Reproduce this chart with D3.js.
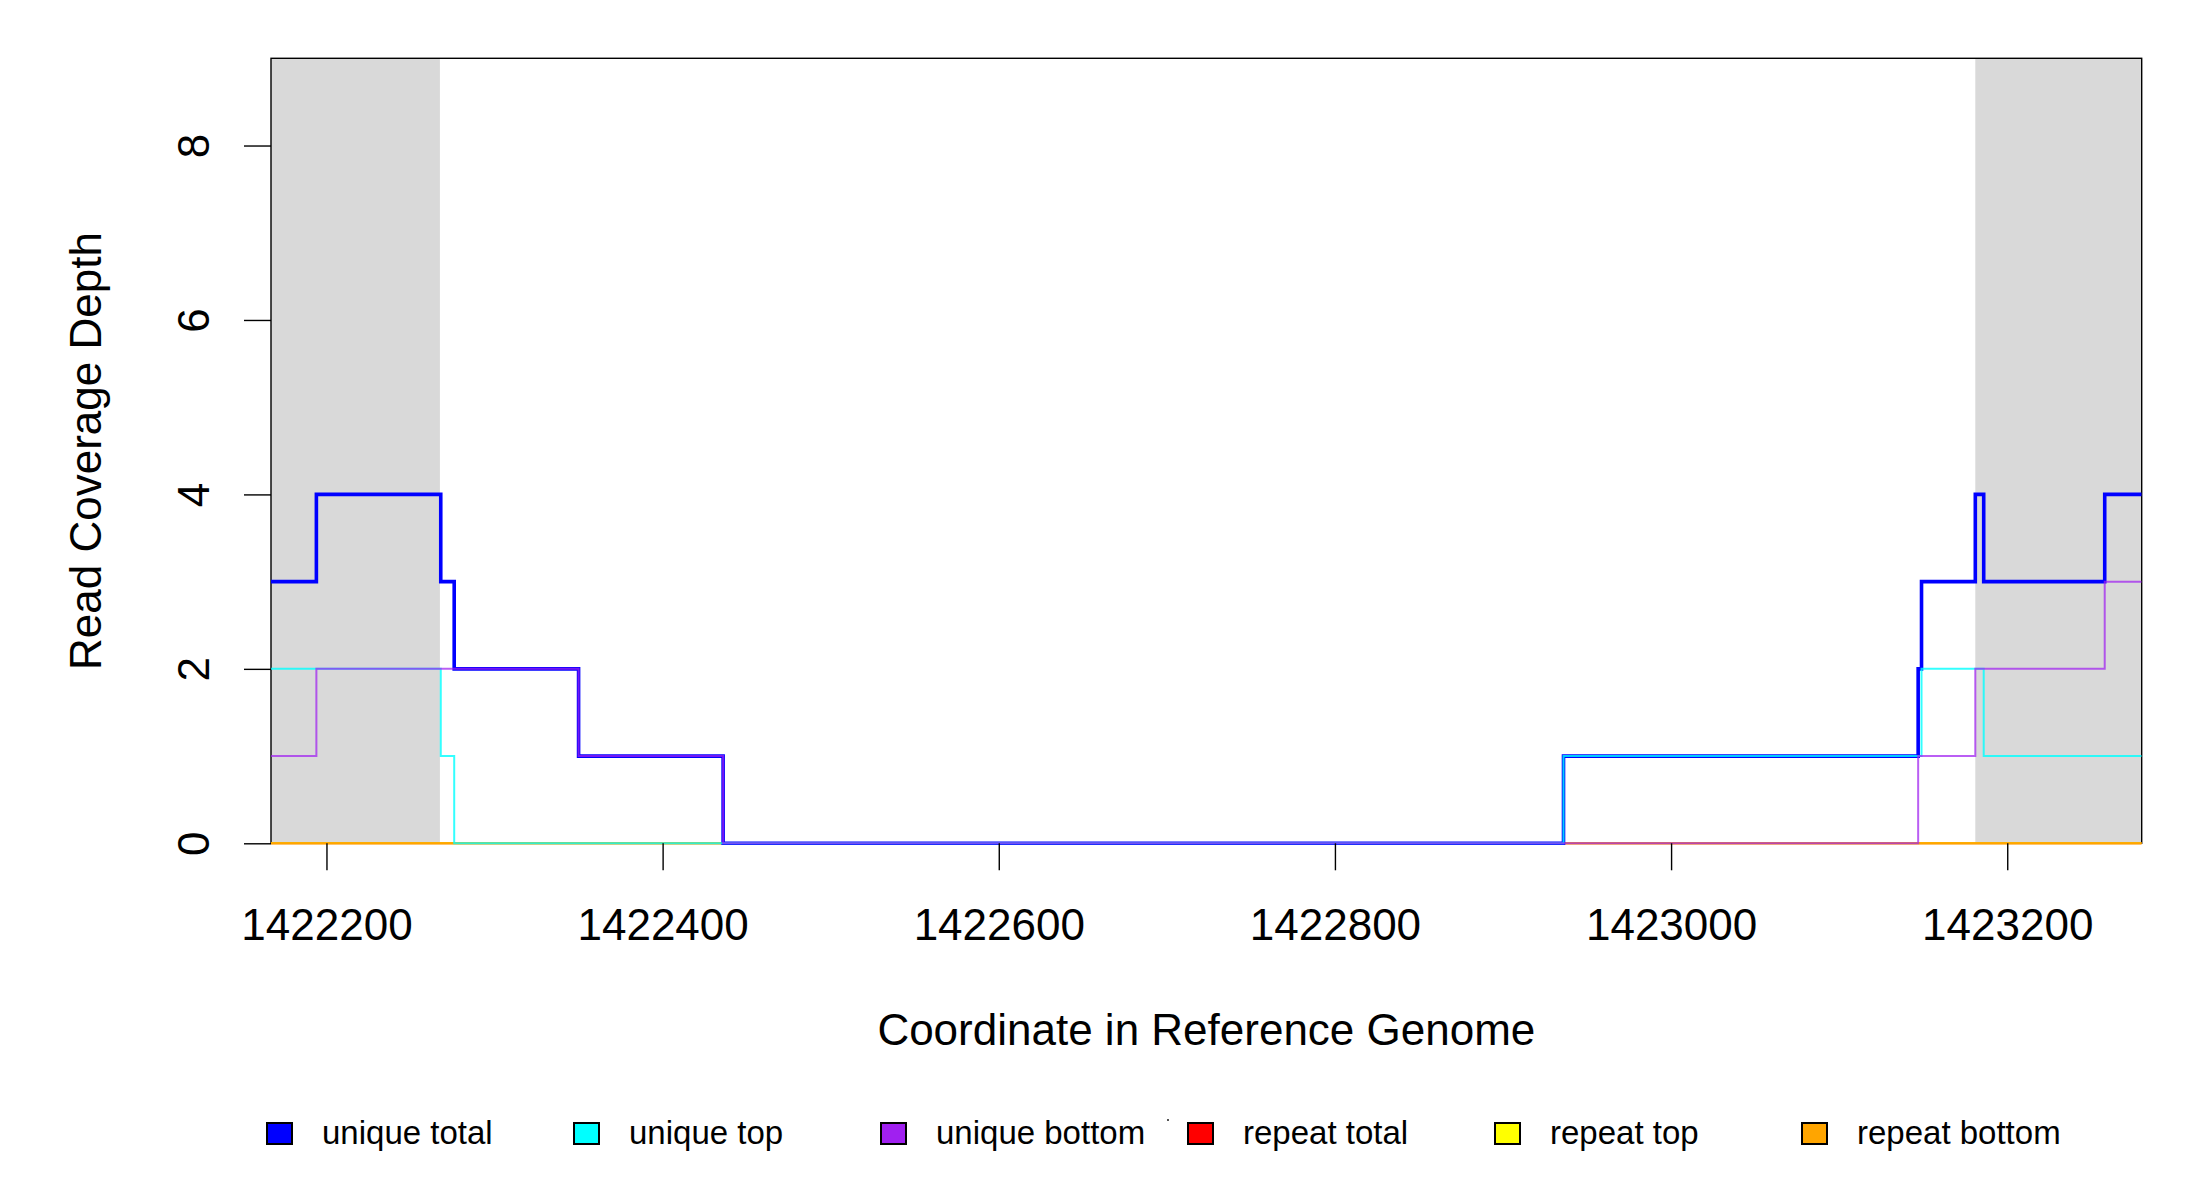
<!DOCTYPE html>
<html>
<head>
<meta charset="utf-8">
<script src="https://cdn.jsdelivr.net/npm/d3@7"></script>
<style>
body { margin: 0; background: #fff; }
text { font-family: "Liberation Sans", Arial, sans-serif; fill: #000; }
</style>
</head>
<body>
<svg id="chart" width="2200" height="1200"></svg>
<script>
// step breakpoints (genome coordinate where each value starts)
var breaks = [1422167, 1422194, 1422268, 1422276, 1422350, 1422436, 1422936, 1423147, 1423149, 1423181, 1423186, 1423258, 1423280];
var uniqueTotal  = [3, 4, 3, 2, 1, 0, 1, 2, 3, 4, 3, 4, 4];
var uniqueTop    = [2, 2, 1, 0, 0, 0, 1, 1, 2, 2, 1, 1, 1];
var uniqueBottom = [1, 2, 2, 2, 1, 0, 0, 1, 1, 2, 2, 3, 3];
var repeatTotal  = [0, 0, 0, 0, 0, 0, 0, 0, 0, 0, 0, 0, 0];
var repeatTop    = [0, 0, 0, 0, 0, 0, 0, 0, 0, 0, 0, 0, 0];
var repeatBottom = [0, 0, 0, 0, 0, 0, 0, 0, 0, 0, 0, 0, 0];

// shaded flank regions
var shadeStart = [1422167, 1423181];
var shadeEnd   = [1422267.5, 1423280];

var xTicks = [1422200, 1422400, 1422600, 1422800, 1423000, 1423200];
var yTicks = [0, 2, 4, 6, 8];

var legendNames = ["unique total", "unique top", "unique bottom", "repeat total", "repeat top", "repeat bottom"];
var legendColors = ["#0000FF", "#00FFFF", "#A020F0", "#FF0000", "#FFFF00", "#FFA500"];

var svg = d3.select("#chart");
var pLeft = 271, pRight = 2141.7, pTop = 58.3, pBottom = 843.3;

var x = d3.scaleLinear().domain([1422167, 1423280]).range([pLeft, pRight]);
var y = d3.scaleLinear().domain([0, 9]).range([pBottom, pTop]);

svg.append("defs").append("clipPath").attr("id", "plotclip")
    .append("rect")
    .attr("x", pLeft).attr("y", pTop - 3)
    .attr("width", pRight - pLeft).attr("height", pBottom - pTop + 6);

//grey shading
svg.append("g").selectAll("rect").data(shadeStart).enter().append("rect")
    .attr("x", function(d){return x(d)})
    .attr("y", pTop)
    .attr("width", function(d, i){return x(shadeEnd[i]) - x(d)})
    .attr("height", pBottom - pTop)
    .attr("fill", "#D9D9D9");

//box
svg.append("rect")
    .attr("x", pLeft).attr("y", pTop)
    .attr("width", pRight - pLeft).attr("height", pBottom - pTop)
    .attr("fill", "none").attr("stroke", "#000").attr("stroke-width", 1.4);

var stepLine = function(vals){
    return d3.line()
	.x(function(d, i){return x(breaks[i])})
	.y(function(d){return y(d)})
	.curve(d3.curveStepAfter)(vals);
}

var plotArea = svg.append("g").attr("clip-path", "url(#plotclip)");
var series = [
    {vals: repeatTotal, col: "#FF0000", w: 2, op: 1},
    {vals: repeatTop, col: "#FFFF00", w: 2, op: 1},
    {vals: repeatBottom, col: "#FFA500", w: 2, op: 1},
    {vals: uniqueTotal, col: "#0000FF", w: 3.6, op: 1},
    {vals: uniqueTop, col: "#00FFFF", w: 2, op: 0.8},
    {vals: uniqueBottom, col: "#A020F0", w: 2, op: 0.72}
];
series.forEach(function(s){
    plotArea.append("path")
	.attr("d", stepLine(s.vals))
	.attr("fill", "none")
	.attr("stroke", s.col)
	.attr("stroke-width", s.w)
	.attr("stroke-opacity", s.op)
	.attr("stroke-linejoin", "miter");
});

//x axis
var xAxis = svg.append("g")
    .attr("transform", "translate(0," + pBottom + ")")
    .call(d3.axisBottom(x).tickValues(xTicks).tickSize(27).tickFormat(d3.format("d")));
xAxis.select(".domain").remove();
xAxis.selectAll("line").attr("stroke", "#000").attr("stroke-width", 1.4);
xAxis.selectAll("text")
    .attr("y", 940 - pBottom).attr("dy", 0)
    .attr("font-size", 44)
    .style("font-family", "'Liberation Sans', Arial, sans-serif");

//y axis
var yAxis = svg.append("g")
    .attr("transform", "translate(" + pLeft + ",0)")
    .call(d3.axisLeft(y).tickValues(yTicks).tickSize(27));
yAxis.select(".domain").remove();
yAxis.selectAll("line").attr("stroke", "#000").attr("stroke-width", 1.4);
yAxis.selectAll("text")
    .attr("x", 0).attr("y", 0).attr("dy", 0)
    .attr("text-anchor", "middle")
    .attr("transform", "translate(" + (209 - pLeft) + ",0) rotate(-90)")
    .attr("font-size", 44)
    .style("font-family", "'Liberation Sans', Arial, sans-serif");

//axis titles
svg.append("text")
    .attr("x", (pLeft + pRight) / 2).attr("y", 1045)
    .attr("text-anchor", "middle")
    .attr("font-size", 44)
    .text("Coordinate in Reference Genome");
svg.append("text")
    .attr("transform", "translate(101,451) rotate(-90)")
    .attr("text-anchor", "middle")
    .attr("font-size", 44)
    .text("Read Coverage Depth");

//legend
var legend = svg.append("g").selectAll("g").data(legendNames).enter().append("g")
    .attr("transform", function(d, i){return "translate(" + (267 + i * 307) + ",1123)"});
legend.append("rect")
    .attr("width", 25).attr("height", 21)
    .attr("fill", function(d, i){return legendColors[i]})
    .attr("stroke", "#000").attr("stroke-width", 2);
legend.append("text")
    .attr("x", 55).attr("y", 21)
    .attr("font-size", 33)
    .text(function(d){return d});
// stray mark beside the legend
svg.append("rect").attr("x", 1167).attr("y", 1119).attr("width", 2).attr("height", 2).attr("fill", "#555");
</script>
</body>
</html>
